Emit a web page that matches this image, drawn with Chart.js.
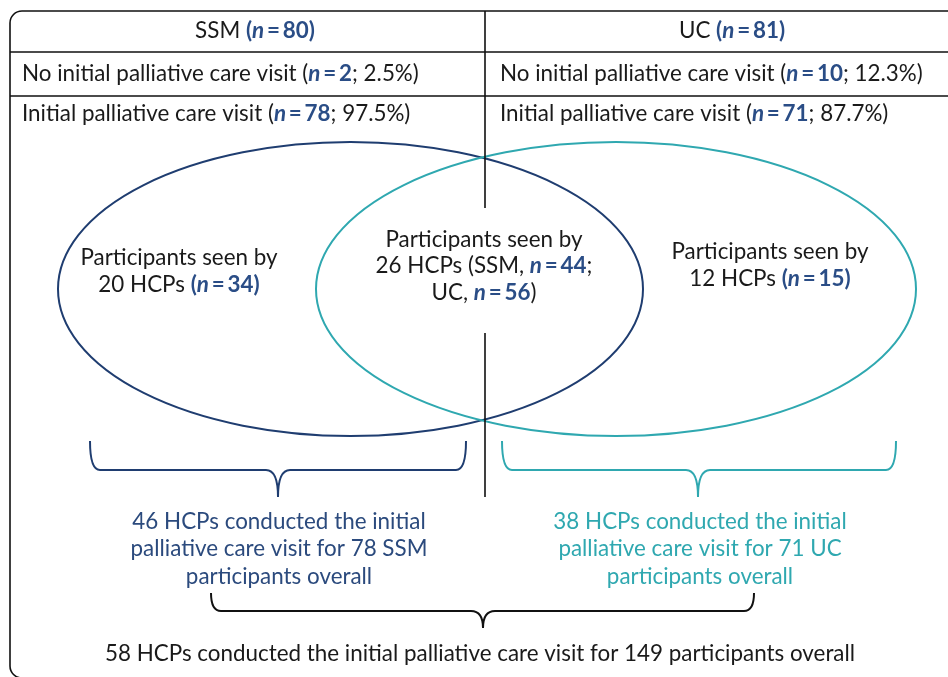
<!DOCTYPE html>
<html>
<head>
<meta charset="utf-8">
<script src="https://cdn.jsdelivr.net/npm/chart.js@4.4.1/dist/chart.umd.min.js"></script>
<style>
  html, body { margin: 0; padding: 0; background: #fff; }
  #wrap { width: 948px; height: 677px; }
</style>
</head>
<body>
<div id="wrap"><canvas id="chart" width="948" height="677"></canvas></div>
<script>
// study arms
const groups = ['SSM', 'UC'];
const groupN = [80, 81];
const noVisitN = [2, 10];
const noVisitPct = ['2.5', '12.3'];
const visitN = [78, 71];
const visitPct = ['97.5', '87.7'];

// HCPs seeing participants (SSM only, UC only, both)
const onlyHcps = [20, 12];
const onlyN = [34, 15];
const sharedHcps = 26;
const sharedN = [44, 56];
const armHcps = [46, 38];
const totalHcps = 58;
const totalN = 149;

const NAVY = '#1f3d70';
const TEAL = '#2fa8b0';
const BLUE = '#2a4d86';
const FS = 22.4;

function fontFor(s) {
    if (s === 'b') return 'bold ' + FS + 'px Lato';
    if (s === 'bi') return 'italic bold ' + FS + 'px Lato';
    return FS + 'px Lato';
}
function colorFor(s) {
    if (s === 'b' || s === 'bi') return BLUE;
    if (s === 'nv') return '#2b4a7d';
    if (s === 'tl') return TEAL;
    return '#1a1a1a';
}

// "(n = 80)" style pieces
function nPart(v, parens) {
    let p = [['n', 'bi'], ['\u2009=\u2009' + v, 'b']];
    if (parens) p = [['(', 'b']].concat(p, [[')', 'b']]);
    return p;
}

function drawRich(ctx, parts, x, y, align) {
    let widths = parts.map(function (p) {
        ctx.font = fontFor(p[1]);
        return ctx.measureText(p[0]).width;
    });
    let total = widths.reduce(function (a, b) { return a + b; }, 0);
    let cx = align === 'center' ? x - total / 2 : x;
    ctx.textAlign = 'left';
    ctx.textBaseline = 'middle';
    parts.forEach(function (p, i) {
        ctx.font = fontFor(p[1]);
        ctx.fillStyle = colorFor(p[1]);
        ctx.fillText(p[0], cx, y);
        cx += widths[i];
    });
}

function brace(ctx, X, Y, x1, x2, xm, yTop, yMid, yTip, color) {
    let r = 10, t = 12;
    ctx.beginPath();
    ctx.moveTo(X(x1), Y(yTop));
    ctx.quadraticCurveTo(X(x1), Y(yMid), X(x1 + r), Y(yMid));
    ctx.lineTo(X(xm - t), Y(yMid));
    ctx.quadraticCurveTo(X(xm), Y(yMid), X(xm), Y(yTip));
    ctx.quadraticCurveTo(X(xm), Y(yMid), X(xm + t), Y(yMid));
    ctx.lineTo(X(x2 - r), Y(yMid));
    ctx.quadraticCurveTo(X(x2), Y(yMid), X(x2), Y(yTop));
    ctx.strokeStyle = color;
    ctx.lineWidth = 2;
    ctx.stroke();
}

const diagram = {
    id: 'diagram',
    afterDraw: function (chart) {
        const ctx = chart.ctx;
        const xs = chart.scales.x, ys = chart.scales.y;
        const X = function (v) { return xs.getPixelForValue(v); };
        const Y = function (v) { return ys.getPixelForValue(v); };
        ctx.save();

        // frame and table rows
        ctx.strokeStyle = '#111';
        ctx.lineWidth = 1.6;
        ctx.beginPath();
        ctx.roundRect(X(10), Y(11), X(990) - X(10), Y(678) - Y(11), 12);
        ctx.stroke();
        ctx.beginPath();
        [52, 96].forEach(function (yy) {
            ctx.moveTo(X(10), Y(yy));
            ctx.lineTo(X(990), Y(yy));
        });
        ctx.stroke();

        // ellipses
        const ell = [[350.5, 289, 292.5, 147, NAVY], [616, 289, 300, 147, TEAL]];
        ell.forEach(function (e) {
            ctx.beginPath();
            ctx.ellipse(X(e[0]), Y(e[1]), X(e[0] + e[2]) - X(e[0]), Math.abs(Y(e[1] + e[3]) - Y(e[1])), 0, 0, Math.PI * 2);
            ctx.strokeStyle = e[4];
            ctx.lineWidth = 2;
            ctx.stroke();
        });

        // column divider
        ctx.strokeStyle = '#111';
        ctx.lineWidth = 1.6;
        ctx.beginPath();
        ctx.moveTo(X(485), Y(11));
        ctx.lineTo(X(485), Y(208));
        ctx.moveTo(X(485), Y(333));
        ctx.lineTo(X(485), Y(497));
        ctx.stroke();

        // table text
        const colC = [255, 732];
        const colL = [22, 500];
        groups.forEach(function (g, i) {
            drawRich(ctx, [[g + ' ', 'r']].concat(nPart(groupN[i], true)), X(colC[i]), Y(31), 'center');
            drawRich(ctx, [['No initial palliative care visit (', 'r']].concat(nPart(noVisitN[i], false), [['; ' + noVisitPct[i] + '%)', 'r']]), X(colL[i]), Y(74), 'left');
            drawRich(ctx, [['Initial palliative care visit (', 'r']].concat(nPart(visitN[i], false), [['; ' + visitPct[i] + '%)', 'r']]), X(colL[i]), Y(114), 'left');
        });

        // ellipse labels
        const onlyC = [179, 770];
        const onlyY = [258, 252];
        [0, 1].forEach(function (i) {
            drawRich(ctx, [['Participants seen by', 'r']], X(onlyC[i]), Y(onlyY[i]), 'center');
            drawRich(ctx, [[onlyHcps[i] + ' HCPs ', 'r']].concat(nPart(onlyN[i], true)), X(onlyC[i]), Y(onlyY[i] + 27), 'center');
        });
        drawRich(ctx, [['Participants seen by', 'r']], X(484), Y(240), 'center');
        drawRich(ctx, [[sharedHcps + ' HCPs (SSM, ', 'r']].concat(nPart(sharedN[0], false), [[';', 'r']]), X(484), Y(266), 'center');
        drawRich(ctx, [['UC, ', 'r']].concat(nPart(sharedN[1], false), [[')', 'r']]), X(484), Y(293), 'center');

        // braces
        brace(ctx, X, Y, 90, 466, 278, 441, 470, 497, NAVY);
        brace(ctx, X, Y, 502, 896, 698, 441, 470, 497, TEAL);
        brace(ctx, X, Y, 211, 754, 483, 593, 611, 628, '#111');

        // arm summaries
        const armC = [279, 700];
        const armSty = ['nv', 'tl'];
        [0, 1].forEach(function (i) {
            drawRich(ctx, [[armHcps[i] + ' HCPs conducted the initial', armSty[i]]], X(armC[i]), Y(522), 'center');
            drawRich(ctx, [['palliative care visit for ' + visitN[i] + ' ' + groups[i], armSty[i]]], X(armC[i]), Y(549), 'center');
            drawRich(ctx, [['participants overall', armSty[i]]], X(armC[i]), Y(577), 'center');
        });
        drawRich(ctx, [[totalHcps + ' HCPs conducted the initial palliative care visit for ' + totalN + ' participants overall', 'r']], X(480), Y(654), 'center');

        ctx.restore();
    }
};

let ctx = document.getElementById('chart').getContext('2d');
let myChart = new Chart(ctx, {
    type: 'scatter',
    data: { datasets: [] },
    options: {
        responsive: false,
        animation: false,
        devicePixelRatio: 1,
        events: [],
        layout: { padding: 0 },
        plugins: { legend: { display: false }, tooltip: { enabled: false } },
        scales: {
            x: { type: 'linear', min: 0, max: 948, display: false },
            y: { type: 'linear', min: 0, max: 677, reverse: true, display: false }
        }
    },
    plugins: [diagram]
});
</script>
</body>
</html>
